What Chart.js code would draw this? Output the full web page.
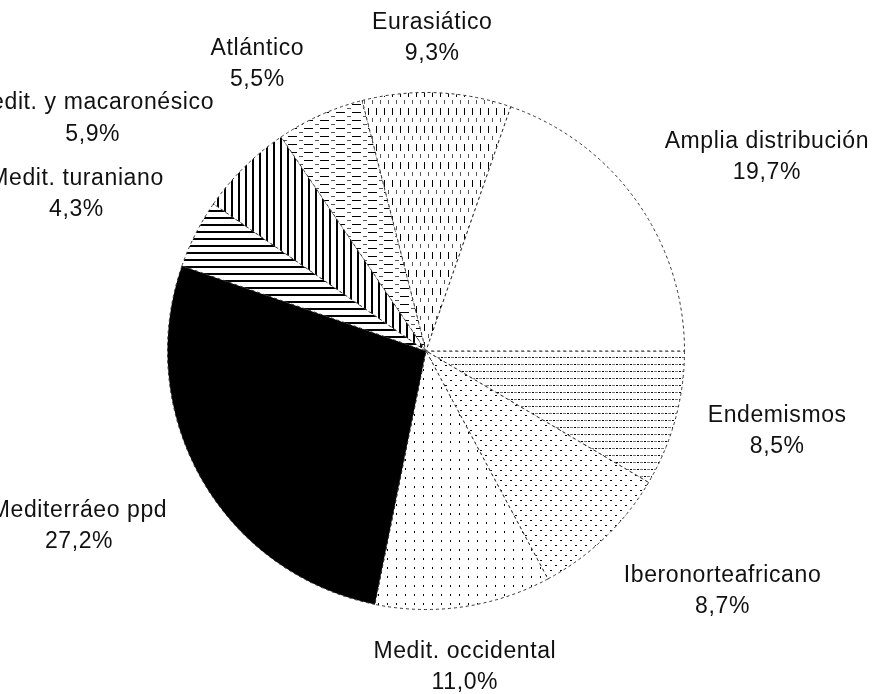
<!DOCTYPE html>
<html lang="es">
<head>
<meta charset="UTF-8">
<title>Espectro corológico</title>
<script src="https://cdn.jsdelivr.net/npm/chart.js@4.4.1/dist/chart.umd.min.js"></script>
<style>
  html, body { margin: 0; padding: 0; background: #fff; overflow: hidden; }
  canvas { display: block; }
</style>
</head>
<body>
<canvas id="pie" width="878" height="694"></canvas>
<script>
// chorological groups, clockwise starting at 3 o'clock
const categories = ['Endemismos', 'Iberonorteafricano', 'Medit. occidental', 'Mediterráeo ppd',
  'Medit. turaniano', 'Medit. y macaronésico', 'Atlántico', 'Eurasiático', 'Amplia distribución'];
const percents = [8.5, 8.7, 11.0, 27.2, 4.3, 5.9, 5.5, 9.3, 19.7];

// nudge of each label from its default spot (1.3 r along the slice bisector)
const labelNudge = [[27, -8], [64, -2], [-10, -16], [-55, 9], [-50, -4], [-97, 7], [-31, 20], [-8, 23], [67, 1]];

// small repeating tiles for the hatch fills
function tile(w, h, draw) {
  const c = document.createElement('canvas');
  c.width = w; c.height = h;
  const g = c.getContext('2d');
  g.fillStyle = '#fff';
  g.fillRect(0, 0, w, h);
  g.fillStyle = '#000';
  draw(g);
  return g.createPattern(c, 'repeat');
}

const fills = [
  tile(7, 7, g => { g.fillRect(0, 0, 2, 1); g.fillStyle = '#777'; g.fillRect(3, 0, 3, 1); }),
  tile(10, 10, g => { g.fillRect(0, 0, 2, 1); g.fillRect(5, 5, 2, 1); }),
  tile(9, 9, g => { g.fillRect(0, 0, 1, 2); }),
  '#000',
  tile(7, 7, g => { g.fillRect(0, 0, 7, 2); }),
  tile(7, 7, g => { g.fillRect(0, 0, 2, 7); }),
  tile(16, 8, g => { g.fillRect(0, 0, 9, 1); g.fillStyle = '#555'; g.fillRect(11, 4, 4, 1); }),
  tile(8, 18, g => { g.fillRect(0, 0, 1, 7); g.fillStyle = '#555'; g.fillRect(4, 10, 1, 4); }),
  '#fff'
];

const pctText = v => v.toFixed(1).replace('.', ',') + '%';

const sliceLabels = {
  id: 'sliceLabels',
  afterDatasetsDraw(chart) {
    const ctx = chart.ctx;
    const arcs = chart.getDatasetMeta(0).data;
    ctx.save();
    ctx.fillStyle = '#111';
    ctx.font = '23px "Liberation Sans", Arial, sans-serif';
    ctx.letterSpacing = '0.6px';
    ctx.textAlign = 'center';
    ctx.textBaseline = 'middle';
    arcs.forEach((arc, i) => {
      const p = arc.getProps(['x', 'y', 'startAngle', 'endAngle', 'outerRadius'], true);
      const mid = (p.startAngle + p.endAngle) / 2;
      const lx = p.x + Math.cos(mid) * p.outerRadius * 1.3 + labelNudge[i][0];
      const ly = p.y + Math.sin(mid) * p.outerRadius * 1.3 + labelNudge[i][1];
      ctx.fillText(categories[i], lx, ly - 16);
      ctx.fillText(pctText(percents[i]), lx, ly + 15.5);
    });
    ctx.restore();
  }
};

new Chart(document.getElementById('pie'), {
  type: 'pie',
  data: {
    labels: categories,
    datasets: [{
      data: percents,
      backgroundColor: fills,
      borderColor: '#333',
      borderWidth: 1,
      borderDash: [3, 3]
    }]
  },
  options: {
    responsive: false,
    animation: false,
    rotation: 90,
    layout: { padding: { left: 167, right: 193, top: 92, bottom: 84 } },
    plugins: {
      legend: { display: false },
      tooltip: { enabled: false }
    }
  },
  plugins: [sliceLabels]
});
</script>
</body>
</html>
